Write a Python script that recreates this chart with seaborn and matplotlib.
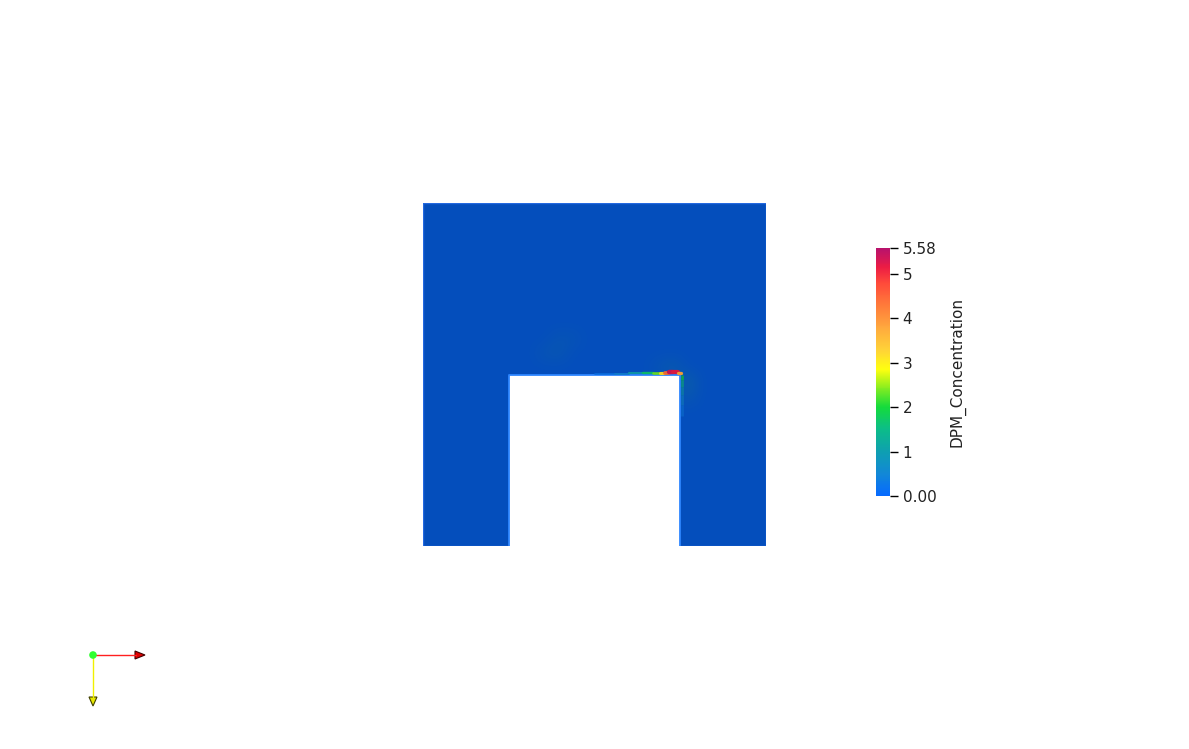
import numpy as np
import matplotlib
matplotlib.use("Agg")
import matplotlib.pyplot as plt
import seaborn as sns
from matplotlib.colors import LinearSegmentedColormap, Normalize
from matplotlib.collections import LineCollection
from matplotlib.cm import ScalarMappable
from matplotlib.patches import Rectangle

# --- data (domain units: outer box is 0..1 x 0..1) ---
c_min, c_max = 0.0, 5.58
tick_vals = [0.0, 1, 2, 3, 4, 5, 5.58]
tick_text = ["0.00", "1", "2", "3", "4", "5", "5.58"]
var_name = "DPM_Concentration"

# cutout (the obstacle) in the lower middle of the box
hole_x = [0.25, 0.75]
hole_y = [0.0, 0.5]

# coarse concentration field, mostly near zero
n_cells = 24
base_conc = 0.02
plume_rows = [13, 13, 14, 14, 12, 11, 10, 12]
plume_cols = [8, 9, 9, 10, 17, 18, 18, 16]
plume_vals = [0.14, 0.18, 0.15, 0.12, 0.30, 0.40, 0.22, 0.15]

# thin deposit streak along the top face of the cutout
top_x = [0.50, 0.56, 0.60, 0.64, 0.67, 0.69, 0.705, 0.718, 0.73, 0.742, 0.752]
top_c = [0.10, 0.30, 0.60, 1.30, 2.00, 2.70, 3.60, 5.20, 5.55, 4.80, 2.80]
top_w = [1.5, 1.8, 2.0, 2.2, 2.5, 2.8, 3.4, 4.2, 4.5, 3.8, 2.8]

# streak down the right face of the cutout
side_y = [0.50, 0.485, 0.465, 0.44, 0.41, 0.38]
side_c = [2.2, 1.6, 1.0, 0.6, 0.35, 0.15]

# colormap (rainbow uniform style)
cmap_pos = [0.0, 0.5, 1.0, 1.5, 2.0, 2.5, 2.85, 3.3, 3.8, 4.3, 4.8, 5.15, 5.58]
cmap_hex = ["#066aff", "#1288d6", "#0ea0b0", "#0cbd88", "#14db3c", "#9af01c",
            "#ffff10", "#ffd238", "#ffa83e", "#ff7a3a", "#ff4a3a", "#ec1c44", "#b8126c"]

shade = 0.74

sns.set_theme(style="white")
plt.rcParams["font.family"] = ["DejaVu Sans"]

cmap = LinearSegmentedColormap.from_list(
    "rainbow_uniform", [(p / c_max, c) for p, c in zip(cmap_pos, cmap_hex)])
norm = Normalize(c_min, c_max)

W, H = 1189, 749
fig = plt.figure(figsize=(W / 100, H / 100), dpi=100)
fig.patch.set_facecolor("white")

# main field axes
ax = fig.add_axes([423 / W, (H - 546) / H, 343 / W, 343 / H])
ax.set_xlim(0, 1)
ax.set_ylim(0, 1)
ax.axis("off")

field = np.full((n_cells, n_cells), base_conc)
for r, c, v in zip(plume_rows, plume_cols, plume_vals):
    field[r, c] = v
rgb = cmap(norm(field))[..., :3] * shade
ax.imshow(rgb, extent=[0, 1, 0, 1], origin="lower", interpolation="bicubic",
          aspect="auto", zorder=1)

# cutout
ax.add_patch(Rectangle((hole_x[0], hole_y[0]), hole_x[1] - hole_x[0], hole_y[1] - hole_y[0],
                       facecolor="white", edgecolor="none", zorder=2))
ax.plot([hole_x[0], hole_x[0], hole_x[1], hole_x[1]],
        [hole_y[0], hole_y[1], hole_y[1], hole_y[0]],
        color="#2e86ff", lw=1.3, zorder=3, solid_capstyle="butt")
ax.plot([0, 0, 1, 1, hole_x[1]], [0, 1, 1, 0, 0], color="#2d70ea", lw=1.0,
        alpha=0.8, zorder=3)
ax.plot([0, hole_x[0]], [0, 0], color="#2d70ea", lw=1.0, alpha=0.8, zorder=3)

px = 1 / 343
# top streak
segs, cols, lws = [], [], []
for i in range(len(top_x) - 1):
    w = (top_w[i] + top_w[i + 1]) / 2
    off = (w / 2) * px
    segs.append([(top_x[i], hole_y[1] + off), (top_x[i + 1], hole_y[1] + off)])
    cval = (top_c[i] + top_c[i + 1]) / 2
    cols.append(np.array(cmap(norm(cval))[:3]) * 0.92)
    lws.append(w * 0.72)
ax.add_collection(LineCollection(segs, colors=cols, linewidths=lws, zorder=4,
                                 capstyle="round"))
# side streak
segs, cols = [], []
for i in range(len(side_y) - 1):
    segs.append([(hole_x[1] + 1.5 * px, side_y[i]), (hole_x[1] + 1.5 * px, side_y[i + 1])])
    cval = (side_c[i] + side_c[i + 1]) / 2
    cols.append(np.array(cmap(norm(cval))[:3]) * 0.85)
ax.add_collection(LineCollection(segs, colors=cols, linewidths=2.0, zorder=4, alpha=0.8))

# colorbar
cax = fig.add_axes([876 / W, (H - 496) / H, 14 / W, 248 / H])
cb = fig.colorbar(ScalarMappable(norm=norm, cmap=cmap), cax=cax)
cb.outline.set_visible(False)
cb.set_ticks(tick_vals)
cb.set_ticklabels(tick_text)
cax.tick_params(axis="y", direction="out", length=6, width=1, colors="black",
                labelsize=11, pad=3, right=True)
for t in cax.get_yticklabels():
    t.set_color("#222222")
fig.text(957 / W, 1 - 372 / H, var_name, rotation=90, ha="center", va="center",
         fontsize=11, color="#222222")

# orientation axes glyph
gx = fig.add_axes([0, 0, 1, 1])
gx.set_xlim(0, W)
gx.set_ylim(H, 0)
gx.axis("off")
ox, oy = 93, 655
gx.plot([ox, 136], [oy, oy], color="#ff2020", lw=1.0)
gx.fill([135, 145, 135], [oy - 4, oy, oy + 4], color="#e00000", ec="#400000", lw=0.8)
gx.plot([ox, ox], [oy, 697], color="#f0f000", lw=1.0)
gx.fill([ox - 4, ox, ox + 4], [697, 706, 697], color="#e8e800", ec="#404000", lw=0.8)
gx.scatter([ox], [oy], s=30, color="#30ff30", zorder=5, edgecolors="none")

fig.savefig("out.png", dpi=100, facecolor="white")
